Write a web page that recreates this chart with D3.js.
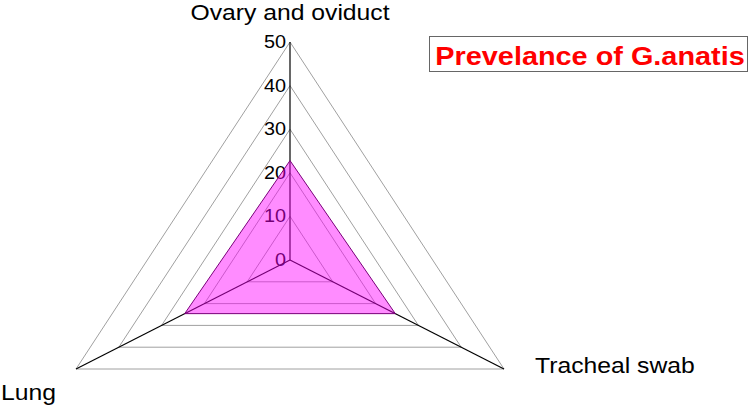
<!DOCTYPE html>
<html><head><meta charset="utf-8">
<script src="https://cdn.jsdelivr.net/npm/d3@7"></script>
<style>body{margin:0;background:#fff}svg{display:block}text{font-family:Arial,"Liberation Sans",sans-serif}</style>
</head><body><svg id="c" width="750" height="406"></svg>
<script>
const categories = ["Ovary and oviduct", "Tracheal swab", "Lung"];
const values = [22.8, 24.6, 24.6];
const ticks = [0, 10, 20, 30, 40, 50];
const title = "Prevelance of G.anatis";

const svg = d3.select("#c");
const cx = 290, cy = 260, sx = 1.1335;
const r = d3.scaleLinear().domain([0, 50]).range([0, 218]);
const ang = d3.scaleOrdinal().domain(categories).range([-90, 30, 150].map(d => d * Math.PI / 180));
const pt = (c, v) => [cx + r(v) * Math.cos(ang(c)) * sx, cy + r(v) * Math.sin(ang(c))];
const line = d3.line();

// grid
svg.append("g").selectAll("path").data(ticks.slice(1)).join("path")
  .attr("d", t => line(categories.map(c => pt(c, t))) + "Z")
  .attr("fill", "none").attr("stroke", "#a0a0a0").attr("stroke-width", 1);

// axes
svg.append("g").selectAll("line").data(categories).join("line")
  .attr("x1", cx).attr("y1", cy)
  .attr("x2", c => pt(c, 50)[0]).attr("y2", c => pt(c, 50)[1])
  .attr("stroke", "#000").attr("stroke-width", 1.2);

// tick labels
svg.append("g").selectAll("text").data(ticks).join("text")
  .attr("transform", t => `translate(286,${cy - r(t) + 6}) scale(${sx},1)`)
  .attr("text-anchor", "end").attr("font-size", 17.5).attr("fill", "#000")
  .text(t => t);

// data polygon
svg.append("path")
  .attr("d", line(categories.map((c, i) => pt(c, values[i]))) + "Z")
  .attr("fill", "#ff00ff").attr("fill-opacity", 0.45)
  .attr("stroke", "#7a007a").attr("stroke-width", 1);

// category labels
const labPos = [[290, 20, "middle"], [535, 373, "start"], [1, 400, "start"]];
svg.append("g").selectAll("text").data(categories).join("text")
  .attr("transform", (c, i) => `translate(${labPos[i][0]},${labPos[i][1]}) scale(${sx},1)`)
  .attr("text-anchor", (c, i) => labPos[i][2]).attr("font-size", 21.8).attr("fill", "#000")
  .text(c => c);

// title box
svg.append("rect").attr("x", 429.5).attr("y", 36.5).attr("width", 318).attr("height", 35)
  .attr("fill", "#fff").attr("stroke", "#666").attr("stroke-width", 1);
svg.append("text").attr("transform", `translate(590,65) scale(1.11,1)`)
  .attr("text-anchor", "middle").attr("font-size", 26).attr("font-weight", "bold")
  .attr("fill", "#ff0000").text(title);
</script></body></html>
